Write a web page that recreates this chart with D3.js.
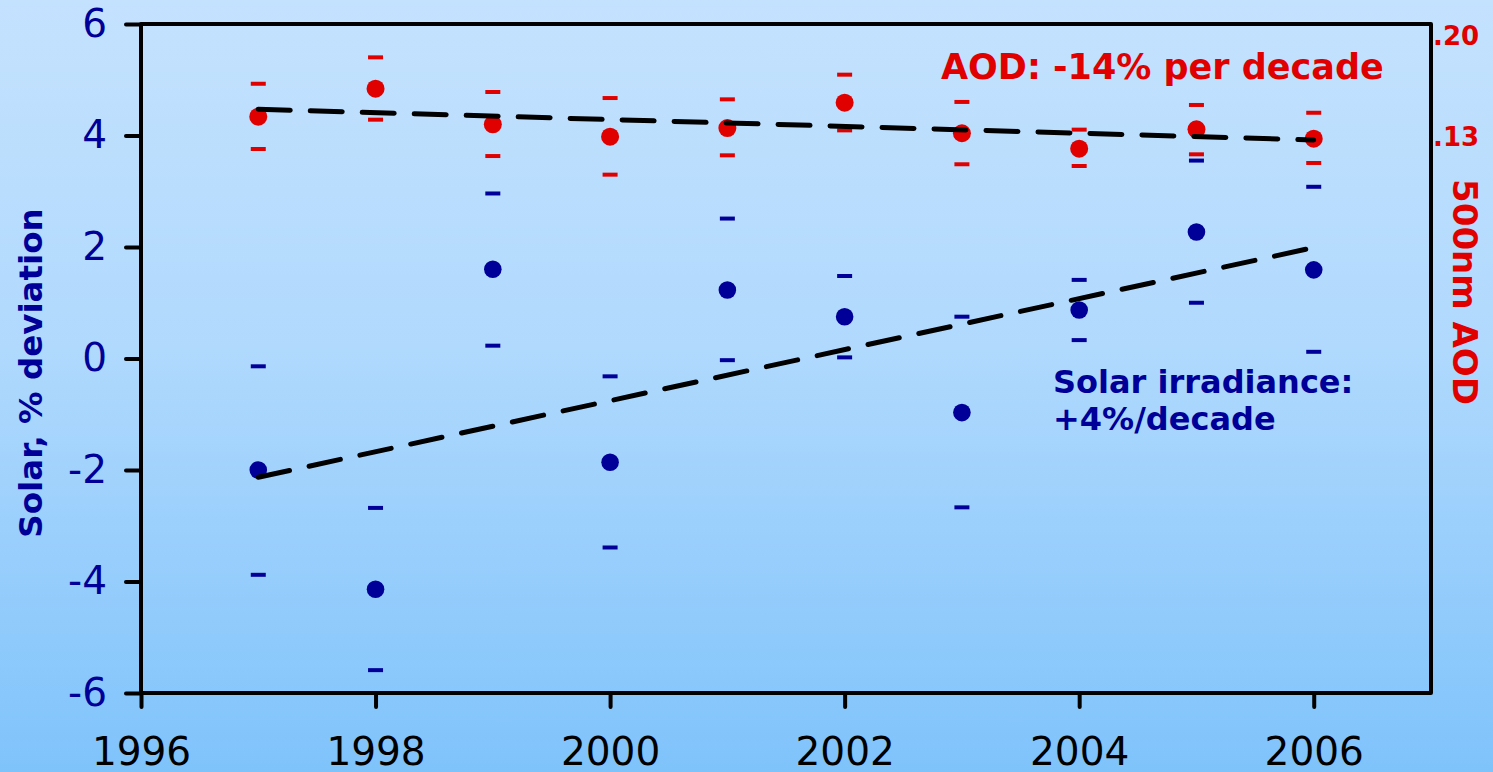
<!DOCTYPE html>
<html>
<head>
<meta charset="utf-8">
<script src="https://cdn.jsdelivr.net/npm/d3@7"></script>
<style>
  html, body { margin: 0; padding: 0; overflow: hidden; }
  svg { display: block; }
</style>
</head>
<body>
<script>
// values
var years = [1997, 1998, 1999, 2000, 2001, 2002, 2003, 2004, 2005, 2006];

// solar irradiance, % deviation (left axis)
var solar      = [-2.00, -4.14, 1.60, -1.86, 1.23, 0.75, -0.97, 0.87, 2.27, 1.59];
var solarUpper = [-0.14, -2.68, 2.96, -0.32, 2.51, 1.48, 0.75, 1.41, 3.55, 3.08];
var solarLower = [-3.88, -5.59, 0.23, -3.39, -0.03, 0.02, -2.67, 0.33, 1.00, 0.12];

// 500nm AOD (right axis)
var aod      = [0.1441, 0.1635, 0.1388, 0.1302, 0.1362, 0.1538, 0.1326, 0.1219, 0.1353, 0.1288];
var aodUpper = [0.1669, 0.1852, 0.1612, 0.1570, 0.1561, 0.1732, 0.1543, 0.1351, 0.1522, 0.1468];
var aodLower = [0.1217, 0.1420, 0.1168, 0.1039, 0.1173, 0.1346, 0.1111, 0.1099, 0.1180, 0.1120];

// trend lines (start, end)
var trendYears = [1997, 2006];
var solarTrend = [-2.13, 1.99];
var aodTrend = [0.1492, 0.1279];

var xTicks = [1996, 1998, 2000, 2002, 2004, 2006];
var yTicks = [-6, -4, -2, 0, 2, 4, 6];
var aodTicks = [0.13, 0.20];

var W = 1493, H = 772;
var margin = {top: 24, left: 141, right: 62, bottom: 79};
var w = W - margin.left - margin.right;
var h = H - margin.top - margin.bottom;

var navy = "#000099", red = "#e00000";
var font = "'DejaVu Sans', Verdana, sans-serif";

var svg = d3.select("body").append("svg")
  .attr("width", W)
  .attr("height", H);

var grad = svg.append("defs").append("linearGradient")
  .attr("id", "bg")
  .attr("x1", 0).attr("y1", 0).attr("x2", 0).attr("y2", 1);
grad.append("stop").attr("offset", "0%").attr("stop-color", "#c4e2fe");
grad.append("stop").attr("offset", "45%").attr("stop-color", "#b0d9fd");
grad.append("stop").attr("offset", "100%").attr("stop-color", "#7fc3fb");

svg.append("rect")
  .attr("width", W).attr("height", H)
  .attr("fill", "url(#bg)");

var g = svg.append("g")
  .attr("transform", "translate(" + margin.left + "," + margin.top + ")");

var x = d3.scaleLinear().domain([1996, 2007]).range([0, w]);
var y = d3.scaleLinear().domain([-6, 6]).range([h, 0]);
// right axis: .13 and .20 sit next to the frame
var yAod = d3.scaleLinear().domain([0.13, 0.20]).range([113, 12]);

// axes
var xAxis = g.append("g")
  .attr("transform", "translate(0," + h + ")")
  .call(d3.axisBottom(x).tickValues(xTicks).tickFormat(d3.format("d"))
    .tickSize(14).tickSizeOuter(0).tickPadding(30));

var yAxis = g.append("g")
  .call(d3.axisLeft(y).tickValues(yTicks).tickFormat(function (d) { return d; })
    .tickSize(15).tickSizeOuter(0).tickPadding(19));

var rAxis = g.append("g")
  .attr("transform", "translate(" + w + ",0)")
  .call(d3.axisRight(yAod).tickValues(aodTicks)
    .tickFormat(function (d) { return d3.format(".2f")(d).replace(/^0/, ""); })
    .tickSize(0).tickPadding(2));

[xAxis, yAxis, rAxis].forEach(function (a) {
  a.select(".domain").remove();
  a.selectAll("line").attr("stroke", "#000").attr("stroke-width", 4).attr("stroke-linecap", "round");
});
xAxis.selectAll("text").attr("font-family", font).attr("font-size", 39).attr("fill", "#000");
yAxis.selectAll("text").attr("font-family", font).attr("font-size", 39).attr("fill", navy);
rAxis.selectAll("text").attr("font-family", font).attr("font-size", 26)
  .attr("font-weight", "bold").attr("fill", red);

// frame
g.append("rect")
  .attr("width", w).attr("height", h)
  .attr("fill", "none")
  .attr("stroke", "#000")
  .attr("stroke-width", 4)
  .attr("stroke-linejoin", "round");

// error marks
function marks(vals, scale, color) {
  g.append("g").selectAll("line")
    .data(vals)
    .enter()
    .append("line")
    .attr("x1", function (d, i) { return x(years[i]) - 7.5; })
    .attr("x2", function (d, i) { return x(years[i]) + 7.5; })
    .attr("y1", function (d) { return scale(d); })
    .attr("y2", function (d) { return scale(d); })
    .attr("stroke", color)
    .attr("stroke-width", 4);
}

function dots(vals, scale, color, r) {
  g.append("g").selectAll("circle")
    .data(vals)
    .enter()
    .append("circle")
    .attr("cx", function (d, i) { return x(years[i]); })
    .attr("cy", function (d) { return scale(d); })
    .attr("r", r)
    .attr("fill", color);
}

marks(solarUpper, y, navy);
marks(solarLower, y, navy);
marks(aodUpper, yAod, red);
marks(aodLower, yAod, red);
dots(solar, y, navy, 8.8);
dots(aod, yAod, red, 9);

// trend lines
function trend(vals, scale) {
  var line = d3.line()
    .x(function (d, i) { return x(trendYears[i]); })
    .y(function (d) { return scale(d); });
  g.append("path")
    .datum(vals)
    .attr("d", line)
    .attr("fill", "none")
    .attr("stroke", "#000")
    .attr("stroke-width", 5)
    .attr("stroke-linecap", "round")
    .attr("stroke-dasharray", "32,20");
}
trend(solarTrend, y);
trend(aodTrend, yAod);

// annotations
svg.append("text")
  .attr("x", 941).attr("y", 79)
  .attr("font-family", font).attr("font-size", 35).attr("font-weight", "bold")
  .attr("fill", red)
  .text("AOD: -14% per decade");

var solarNote = svg.append("text")
  .attr("font-family", font).attr("font-size", 32).attr("font-weight", "bold")
  .attr("fill", navy);
solarNote.append("tspan").attr("x", 1053).attr("y", 393).text("Solar irradiance:");
solarNote.append("tspan").attr("x", 1053).attr("y", 430).text("+4%/decade");

// axis titles
svg.append("text")
  .attr("transform", "translate(30,373) rotate(-90)")
  .attr("text-anchor", "middle")
  .attr("dy", "0.36em")
  .attr("font-family", font).attr("font-size", 32.5).attr("font-weight", "bold")
  .attr("fill", navy)
  .text("Solar, % deviation");

svg.append("text")
  .attr("transform", "translate(1465,292) rotate(90)")
  .attr("text-anchor", "middle")
  .attr("dy", "0.36em")
  .attr("font-family", font).attr("font-size", 34).attr("font-weight", "bold")
  .attr("fill", red)
  .text("500nm AOD");
</script>
</body>
</html>
